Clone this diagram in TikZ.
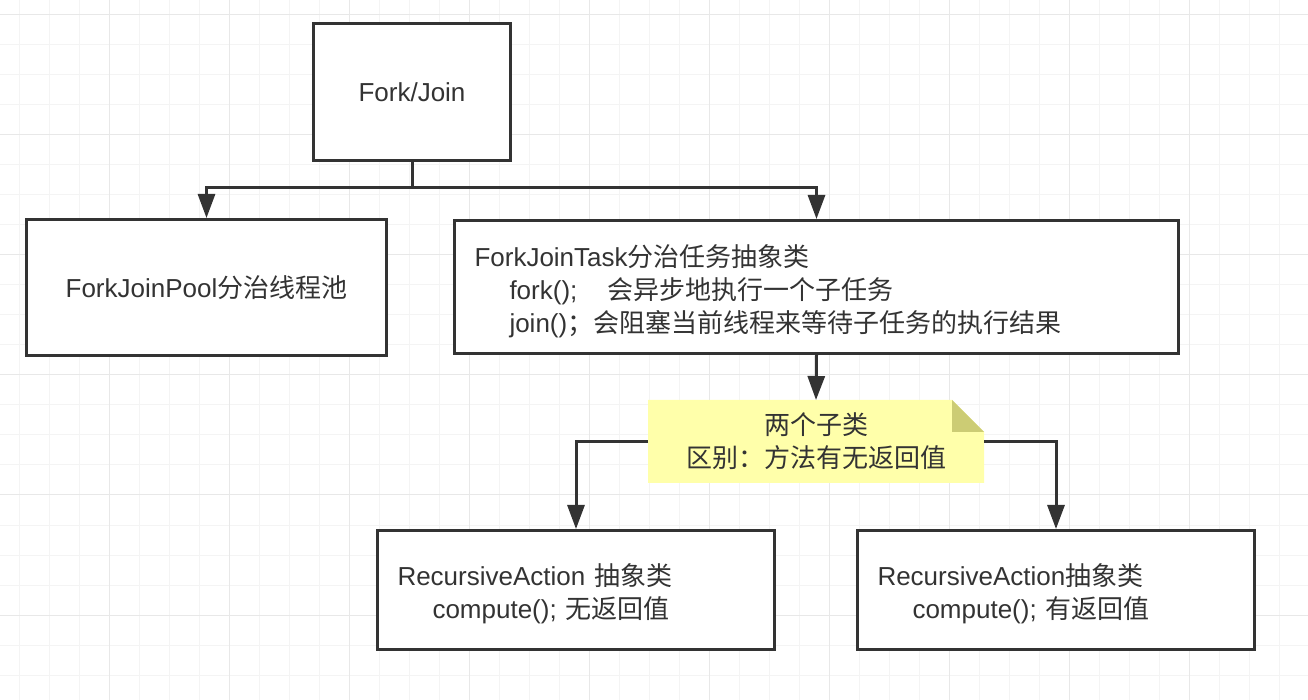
\documentclass[tikz,border=0pt]{standalone}
\usepackage{fontspec}
\setmainfont{Liberation Sans}
\newfontfamily\zhfont{Noto Sans CJK SC}
\newcommand{\zh}[1]{{\zhfont #1}}
\newcommand{\lift}{\rule{0pt}{15pt}}
\usetikzlibrary{
    arrows.meta
}
\definecolor{ink}{HTML}{333333}
\definecolor{gridminor}{HTML}{F4F4F4}
\definecolor{gridmajor}{HTML}{E8E8E8}
\definecolor{notefill}{HTML}{FFFFAA}
\definecolor{notefold}{HTML}{CCCC74}
\tikzset{
    every picture/.style = {
        > = {Triangle[length = 12pt, width = 8.5pt]},
        x = 0.5pt,
        y = -0.5pt
    },
    every node/.style = {
        text = ink,
        font = \fontsize{13pt}{16.5pt}\selectfont
    },
    box/.style = {
        draw = ink,
        line width = 1.5pt,
        fill = white,
        inner sep = 0pt
    },
    listbox/.style = {
        box,
        align = left,
        inner xsep = 10pt
    },
    note/.style = {
        inner sep = 0pt,
        outer sep = 0pt,
        align = center,
        path picture = {
            \fill[notefill] (path picture bounding box.south west)
                -- (path picture bounding box.north west)
                -- ([xshift = -16pt] path picture bounding box.north east)
                -- ([yshift = -16pt] path picture bounding box.north east)
                -- (path picture bounding box.south east) -- cycle;
            \fill[notefold] ([xshift = -16pt] path picture bounding box.north east)
                -- ([xshift = -16pt, yshift = -16pt] path picture bounding box.north east)
                -- ([yshift = -16pt] path picture bounding box.north east) -- cycle;
        }
    },
    link/.style = {
        draw = ink,
        line width = 1.5pt
    },
    gridline/.style = {
        line width = 0.5pt
    }
}

\begin{document}
\begin{tikzpicture}

    \useasboundingbox (0, 0) rectangle (1308, 700);

    % background grid
    \foreach \gx in {19, 49, ..., 1309}
        \draw[gridline, gridminor] (\gx, 0) -- (\gx, 700);
    \foreach \gy in {15, 45, ..., 675}
        \draw[gridline, gridminor] (0, \gy) -- (1308, \gy);
    \foreach \gx in {109, 229, ..., 1189}
        \draw[gridline, gridmajor] (\gx, 0) -- (\gx, 700);
    \foreach \gy in {15, 135, ..., 615}
        \draw[gridline, gridmajor] (0, \gy) -- (1308, \gy);

    \node[box, minimum width = 98.5pt, minimum height = 68.5pt] (forkjoin) at (412, 92) {Fork/Join};

    \node[box, minimum width = 180pt, minimum height = 68pt] (pool) at (206.5, 287.5) {ForkJoinPool\zh{分治线程池}};

    \node[listbox, text width = 342pt, minimum height = 66.5pt] (task) at (816.5, 287) {
        \lift ForkJoinTask\zh{分治任务抽象类} \\
        \hspace*{17.5pt}fork();\hspace{15pt}\zh{会异步地执行一个子任务} \\
        \hspace*{17.5pt}join()\zh{；会阻塞当前线程来等待子任务的执行结果}
    };

    \node[note, minimum width = 168pt, minimum height = 41.5pt] (diff) at (816, 441.5) {
        \zh{两个子类} \\
        \zh{区别：方法有无返回值}
    };

    \node[listbox, text width = 178.5pt, minimum height = 59.5pt] (action) at (576, 590) {
        \lift RecursiveAction \zh{抽象类} \\
        \hspace*{17.5pt}compute(); \zh{无返回值}
    };

    \node[listbox, text width = 178.5pt, minimum height = 59.5pt] (result) at (1056, 590) {
        \lift RecursiveAction\zh{抽象类} \\
        \hspace*{17.5pt}compute(); \zh{有返回值}
    };

    \coordinate (split) at (412, 188);

    \draw[link] (forkjoin.south) -- (split);
    \draw[link, ->] (split) -| (pool.north);
    \draw[link, ->] (split) -| (task.north);
    \draw[link, ->] (task.south) -- (diff.north);
    \draw[link, ->] (diff.west) -| (action.north);
    \draw[link, ->] (diff.east) -| (result.north);

\end{tikzpicture}
\end{document}
